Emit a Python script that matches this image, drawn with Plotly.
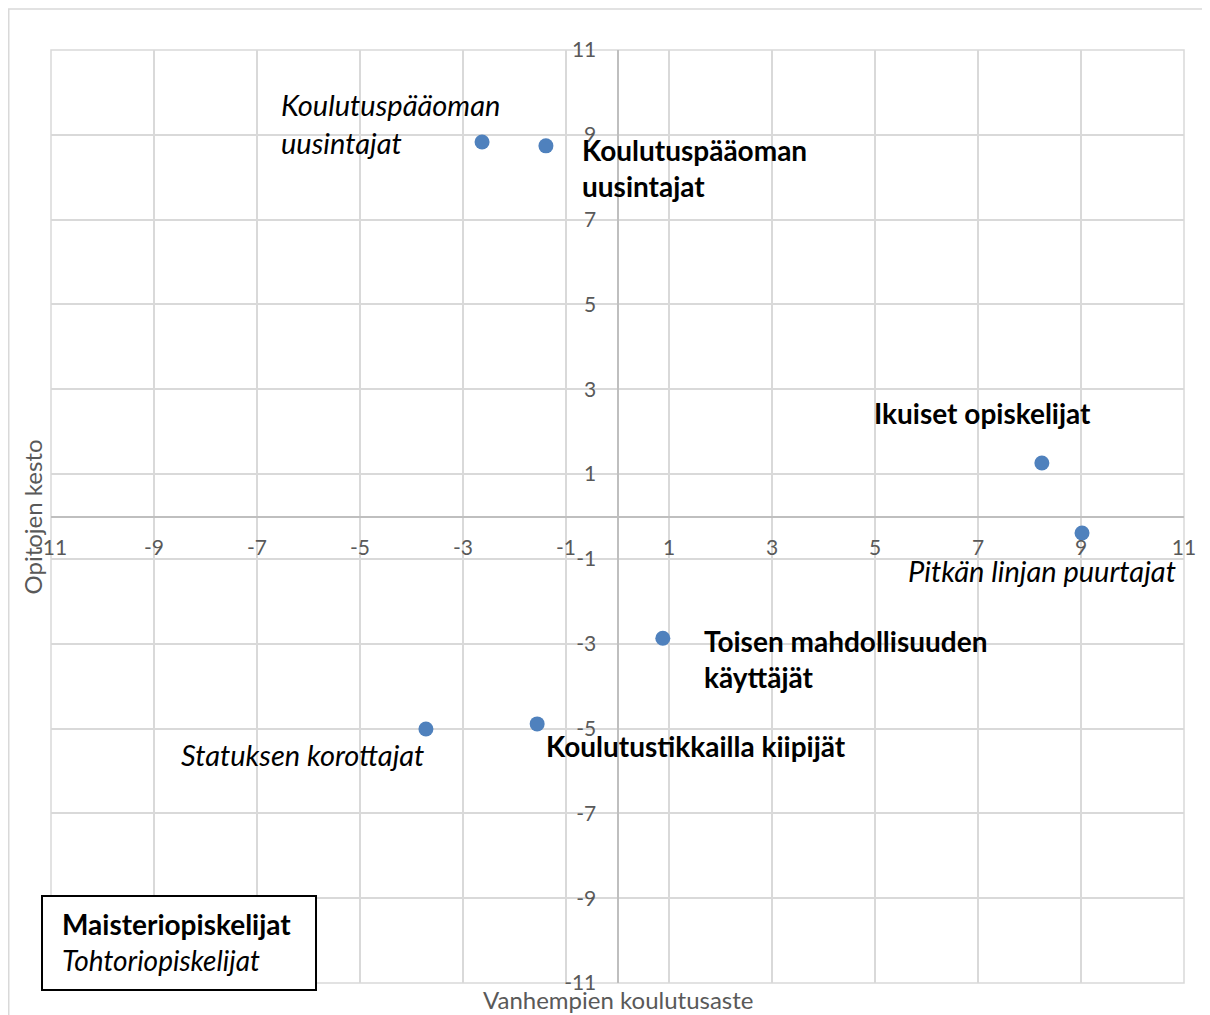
"""Maisteri- ja tohtoriopiskelijoiden ryhmät: vanhempien koulutusaste vs. opintojen kesto."""
import plotly.graph_objects as go

# ── data ──
x_vals = [-2.63, -1.39, 8.24, 9.02, 0.88, -1.56, -3.72]
y_vals = [8.83, 8.74, 1.26, -0.39, -2.87, -4.89, -5.01]
labels = [
    "Koulutuspääoman<br>uusintajat",
    "Koulutuspääoman<br>uusintajat",
    "Ikuiset opiskelijat",
    "Pitkän linjan puurtajat",
    "Toisen mahdollisuuden<br>käyttäjät",
    "Koulutustikkailla kiipijät",
    "Statuksen korottajat",
]
groups = ["tohtori", "maisteri", "maisteri", "tohtori", "maisteri", "maisteri", "tohtori"]
tick_vals = [-11, -9, -7, -5, -3, -1, 1, 3, 5, 7, 9, 11]
tick_text = [str(v) for v in tick_vals]
x_title = "Vanhempien koulutusaste"
y_title = "Opitojen kesto"
legend_lines = ["Maisteriopiskelijat", "Tohtoriopiskelijat"]

# label placement (xanchor, xshift px, yshift px) — styling only
placement = [
    ("right", 20, 19),
    ("left", 34, -22),
    ("right", 51, 50),
    ("right", 96, -37),
    ("left", 39, -21),
    ("left", 7, -22),
    ("right", 0, -26),
]

_FONT = "Lato"
_MARKER = "#4F81BD"
_GRID = "#D9D9D9"
_AXIS = "#BFBFBF"
_TICK = "#595959"

fig = go.Figure()

for grp, name in (("maisteri", legend_lines[0]), ("tohtori", legend_lines[1])):
    xs = [x for x, g in zip(x_vals, groups) if g == grp]
    ys = [y for y, g in zip(y_vals, groups) if g == grp]
    fig.add_trace(go.Scatter(
        x=xs, y=ys, mode="markers", name=name,
        marker=dict(color=_MARKER, size=15),
        showlegend=False,
    ))

# ── pisteiden nimet ──
for x, y, txt, grp, (xa, xs, ys) in zip(x_vals, y_vals, labels, groups, placement):
    if grp == "maisteri":
        body, size = f"<b>{txt}</b>", 28
    else:
        body, size = f"<i>{txt}</i>", 29
    fig.add_annotation(
        x=x, y=y, text=body, showarrow=False,
        xanchor=xa, yanchor="middle", xshift=xs, yshift=ys,
        align="left", font=dict(family=_FONT, size=size, color="black"),
    )

# ── akselit nollakohdassa ──
axis_common = dict(
    range=[-11, 11], tickvals=tick_vals, ticktext=tick_text,
    showgrid=True, gridcolor=_GRID, gridwidth=1.5,
    zeroline=False, showline=True, linecolor=_AXIS, linewidth=2,
    ticks="", anchor="free", position=0.5,
    tickfont=dict(family=_FONT, size=21, color=_TICK),
    fixedrange=True,
)
fig.update_xaxes(**axis_common, ticklabelstandoff=12)
fig.update_yaxes(**axis_common, ticklabelstandoff=16)

# akselien otsikot
fig.add_annotation(
    x=0.5, y=-0.018, xref="paper", yref="paper", text=x_title,
    showarrow=False, xanchor="center", yanchor="middle",
    font=dict(family=_FONT, size=24, color=_TICK),
)
fig.add_annotation(
    x=-0.0159, y=0.5, xref="paper", yref="paper", text=y_title,
    showarrow=False, xanchor="center", yanchor="middle", textangle=-90,
    font=dict(family=_FONT, size=24, color=_TICK),
)

# ── selitelaatikko ──
fig.add_shape(
    type="rect", xref="paper", yref="paper",
    x0=-0.00794, x1=0.2339, y0=-0.0075, y1=0.0932,
    line=dict(color="black", width=2), fillcolor="white", layer="above",
)
fig.add_annotation(
    x=0.0079, y=0.0439, xref="paper", yref="paper",
    text=f"<b>{legend_lines[0]}</b><br><i>{legend_lines[1]}</i>",
    showarrow=False, xanchor="left", yanchor="middle", align="left",
    font=dict(family=_FONT, size=28, color="black"),
)

# piirtoalueen ja kaavioalueen reunat
fig.add_shape(
    type="rect", xref="paper", yref="paper", x0=0, x1=1, y0=0, y1=1,
    line=dict(color=_GRID, width=1.5), layer="below",
)
fig.add_shape(
    type="rect", xref="paper", yref="paper",
    x0=-0.0373, x1=1.05, y0=-0.1, y1=1.0439,
    line=dict(color=_GRID, width=1.5), layer="below",
)

# sivun oletusmarginaali (8 px) huomioitu koossa ja marginaaleissa
fig.update_layout(
    width=1202, height=1007,
    margin=dict(l=43, r=26, t=42, b=32),
    plot_bgcolor="white", paper_bgcolor="white",
    font=dict(family=_FONT),
)

fig.write_html("out.html")
